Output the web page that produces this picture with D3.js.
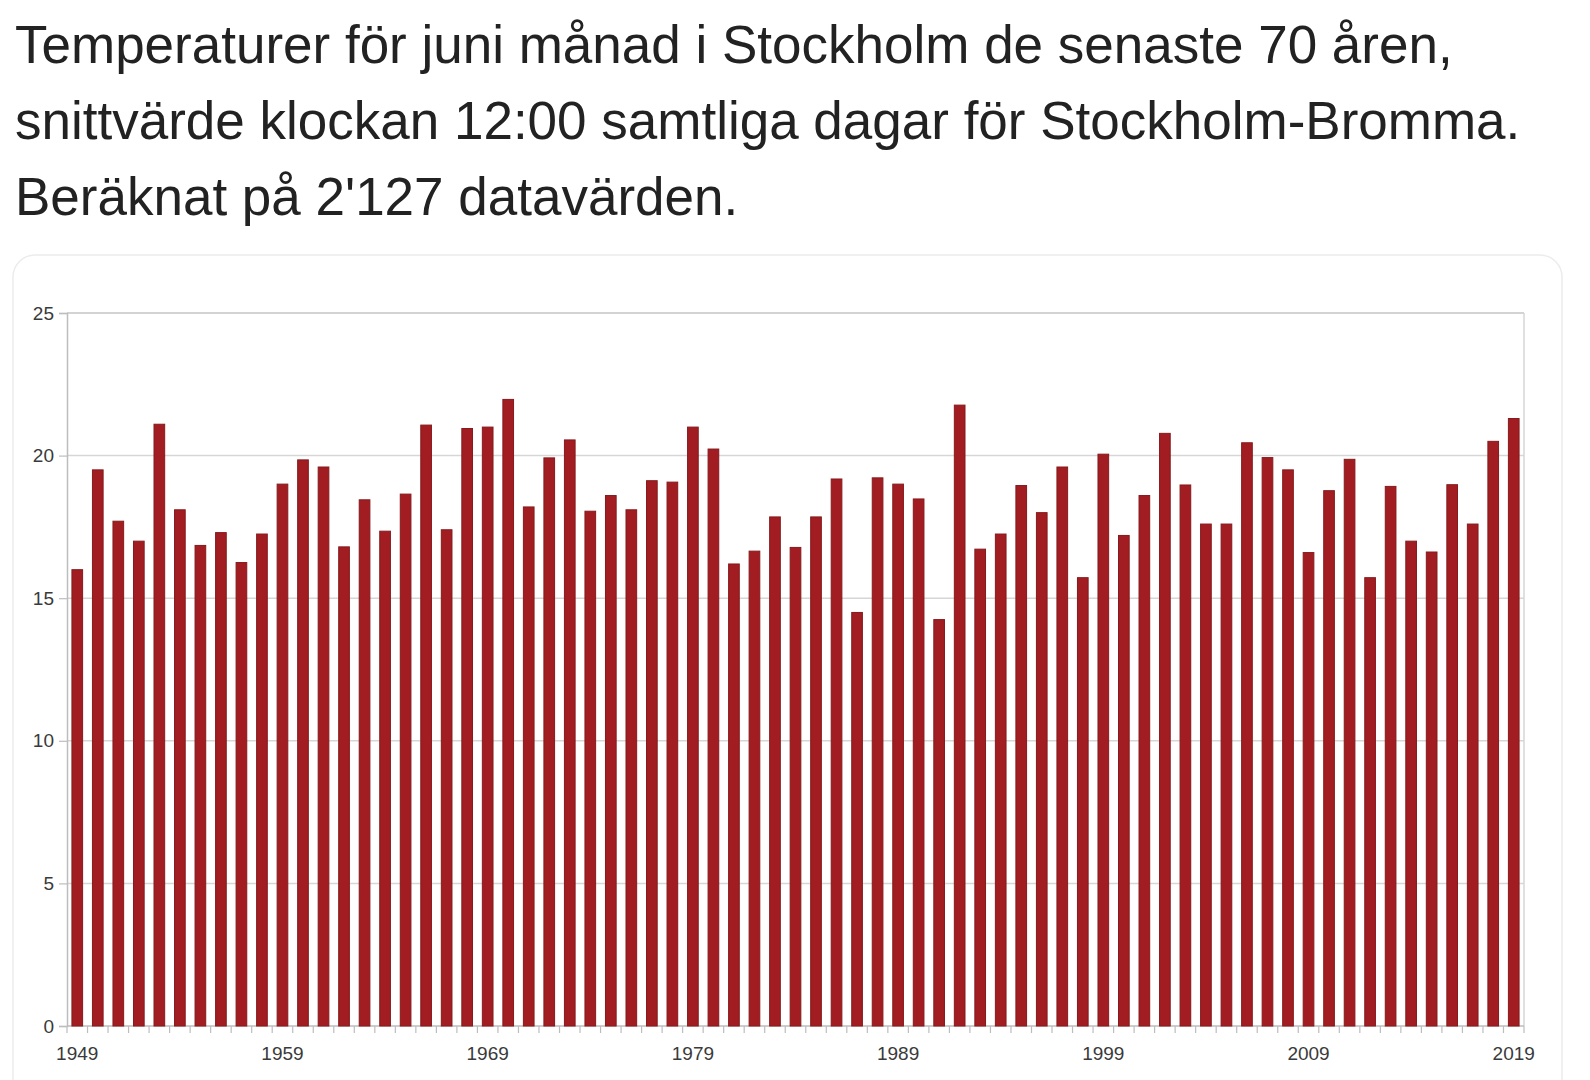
<!DOCTYPE html>
<html>
<head>
<meta charset="utf-8">
<script src="https://cdn.jsdelivr.net/npm/d3@7"></script>
<style>
  body { margin: 0; background: #fff; }
  svg { display: block; }
</style>
</head>
<body>
<div id="chart"></div>
<script>
// june mean temp at 12:00, Stockholm-Bromma
const years = d3.range(1949, 2020);
const temps = [
  16.0, 19.5, 17.7, 17.0, 21.1, 18.1, 16.85, 17.3, 16.25, 17.25,
  19.0, 19.85, 19.6, 16.8, 18.45, 17.35, 18.65, 21.07, 17.4, 20.95,
  21.0, 21.97, 18.2, 19.92, 20.55, 18.05, 18.6, 18.1, 19.12, 19.07,
  21.0, 20.23, 16.2, 16.65, 17.85, 16.78, 17.85, 19.18, 14.5, 19.22,
  19.0, 18.48, 14.25, 21.77, 16.72, 17.25, 18.95, 18.0, 19.6, 15.72,
  20.05, 17.2, 18.6, 20.78, 18.97, 17.6, 17.6, 20.45, 19.93, 19.5,
  16.6, 18.77, 19.87, 15.72, 18.92, 17.0, 16.62, 18.98, 17.6, 20.5,
  21.3
];
const yTicks = [0, 5, 10, 15, 20, 25];
const xLabelYears = [1949, 1959, 1969, 1979, 1989, 1999, 2009, 2019];
const titleLines = [
  'Temperaturer för juni månad i Stockholm de senaste 70 åren,',
  'snittvärde klockan 12:00 samtliga dagar för Stockholm-Bromma.',
  "Beräknat på 2'127 datavärden."
];

const width = 1590;
const height = 1080;
const plot = {left: 67, right: 1524, top: 313, bottom: 1026};
const tickFont = '"Liberation Sans Narrow", "Liberation Sans", Arial, sans-serif';

const svg = d3.select('#chart')
  .append('svg')
  .attr('width', width)
  .attr('height', height);

// title
svg.append('g')
  .attr('id', 'title')
  .selectAll('text')
  .data(titleLines)
  .enter()
  .append('text')
  .attr('x', 15)
  .attr('y', (d, i) => 63 + i * 76)
  .attr('fill', '#222')
  .attr('font-family', '"Liberation Sans", Arial, sans-serif')
  .attr('font-size', 53)
  .text(d => d);

// card behind chart
svg.append('rect')
  .attr('x', 13)
  .attr('y', 255)
  .attr('width', 1549)
  .attr('height', 860)
  .attr('rx', 22)
  .attr('fill', '#fff')
  .attr('stroke', '#ececec')
  .attr('stroke-width', 1.5);

const x = d3.scaleBand()
  .domain(years)
  .range([plot.left, plot.right])
  .paddingInner(0.48)
  .paddingOuter(0.24);

const y = d3.scaleLinear()
  .domain([0, 25])
  .range([plot.bottom, plot.top]);

// grid
svg.append('g')
  .attr('id', 'grid')
  .selectAll('line')
  .data(yTicks.filter(d => d > 0))
  .enter()
  .append('line')
  .attr('x1', plot.left)
  .attr('x2', plot.right)
  .attr('y1', d => y(d))
  .attr('y2', d => y(d))
  .attr('stroke', d => d == 25 ? '#c4c4c4' : '#d6d6d6')
  .attr('stroke-width', 1.5);

// right frame
svg.append('line')
  .attr('x1', plot.right)
  .attr('x2', plot.right)
  .attr('y1', plot.top)
  .attr('y2', plot.bottom)
  .attr('stroke', '#d6d6d6')
  .attr('stroke-width', 1.5);

// y axis
const yAxis = svg.append('g')
  .attr('id', 'y-axis')
  .attr('transform', `translate(${plot.left}, 0)`)
  .call(d3.axisLeft(y).tickValues(yTicks).tickSize(8).tickPadding(5));

yAxis.select('.domain').attr('stroke', '#bdbdbd').attr('stroke-width', 1.5);
yAxis.selectAll('.tick line').attr('stroke', '#bdbdbd').attr('stroke-width', 1.2);
yAxis.selectAll('.tick text')
  .attr('fill', '#3a3a3a')
  .attr('font-family', tickFont)
  .attr('font-size', 19);

// x axis: ticks at band edges, labels every 10 years
const edges = years.map(d => x(d) - x.step() * x.paddingInner() / 2);
edges.push(plot.right);

const xAxis = svg.append('g')
  .attr('id', 'x-axis');

xAxis.append('line')
  .attr('x1', plot.left)
  .attr('x2', plot.right)
  .attr('y1', plot.bottom)
  .attr('y2', plot.bottom)
  .attr('stroke', '#bdbdbd')
  .attr('stroke-width', 1.5);

xAxis.selectAll('line.xtick')
  .data(edges)
  .enter()
  .append('line')
  .attr('class', 'xtick')
  .attr('x1', d => d)
  .attr('x2', d => d)
  .attr('y1', plot.bottom)
  .attr('y2', plot.bottom + 7)
  .attr('stroke', '#bdbdbd')
  .attr('stroke-width', 1.2);

xAxis.selectAll('text')
  .data(xLabelYears)
  .enter()
  .append('text')
  .attr('x', d => x(d) + x.bandwidth() / 2)
  .attr('y', 1060)
  .attr('text-anchor', 'middle')
  .attr('fill', '#3a3a3a')
  .attr('font-family', tickFont)
  .attr('font-size', 19)
  .text(d => d);

// bars
svg.append('g')
  .attr('id', 'bars')
  .selectAll('rect')
  .data(years)
  .enter()
  .append('rect')
  .attr('x', d => x(d))
  .attr('y', (d, i) => y(temps[i]))
  .attr('width', x.bandwidth())
  .attr('height', (d, i) => y(0) - y(temps[i]))
  .attr('fill', '#a11d22')
  .attr('stroke', '#861a1c')
  .attr('stroke-width', 1);
</script>
</body>
</html>
